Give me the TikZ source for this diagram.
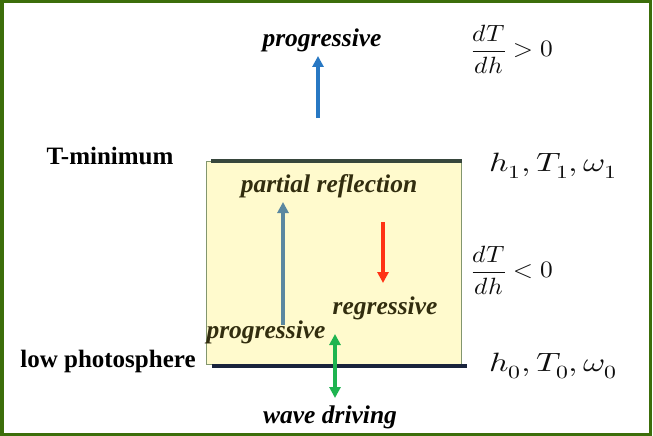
\documentclass[tikz,border=0pt]{standalone}
\usepackage{amsmath}
\usepackage{fontspec}
\usepackage{unicode-math}
\setmainfont{Liberation Serif}
\setmathfont{Latin Modern Math}
\usetikzlibrary{arrows.meta}
\definecolor{framegreen}{RGB}{60,110,10}
\definecolor{boxfill}{RGB}{255,250,205}
\definecolor{boxedge}{RGB}{130,150,110}
\definecolor{topline}{RGB}{55,70,60}
\definecolor{botline}{RGB}{25,35,60}
\definecolor{blueA}{RGB}{40,120,195}
\definecolor{steelA}{RGB}{90,135,160}
\definecolor{redA}{RGB}{255,50,20}
\definecolor{greenA}{RGB}{30,180,80}
\definecolor{olivetext}{RGB}{50,45,15}
\definecolor{mathgray}{RGB}{15,15,15}
\tikzset{
  boldlab/.style={font=\fontsize{25}{30}\selectfont\bfseries, text=black, inner sep=0pt},
  itlab/.style={font=\fontsize{25.5}{30}\selectfont\bfseries\itshape, inner sep=0pt},
  mathlab/.style={font=\fontsize{26.5}{30}\selectfont, text=mathgray, inner sep=0pt},
  fraclab/.style={font=\fontsize{23.5}{28}\selectfont, text=mathgray, inner sep=0pt},
  arr/.style={line width=3.2pt, -{Triangle[width=11pt,length=11pt]}},
  darr/.style={line width=3.2pt, {Triangle[width=11pt,length=11pt]}-{Triangle[width=11pt,length=11pt]}},
}
\begin{document}
\begin{tikzpicture}[x=1pt,y=-1pt]
\useasboundingbox (0,0) rectangle (653,436);
\fill[white] (0,0) rectangle (653,436);
% yellow box
\draw[boxedge, fill=boxfill, line width=0.8pt] (206,161) rectangle (461,364);
% boundary lines
\coordinate (tl1) at (211,161);
\coordinate (tl2) at (462,161);
\draw[topline, line width=4pt] (tl1) -- (tl2);
\coordinate (bl1) at (212,366);
\coordinate (bl2) at (467,366);
\draw[botline, line width=4pt] (bl1) -- (bl2);
% texts
\node[itlab, text=black] (progtop) at (322,40) {progressive};
\node[boldlab] (tmin) at (110,156) {T-minimum};
\node[boldlab] (lowph) at (108,361) {low photosphere};
\node[itlab, text=olivetext] (partial) at (329,186) {partial reflection};
\node[itlab, text=olivetext] (regr) at (385,308) {regressive};
\node[itlab, text=olivetext] (progbot) at (266,332) {progressive};
\node[itlab, text=black] (wave) at (330,417) {wave driving};
\node[mathlab, anchor=west] (h1) at (489,166) {\scalebox{1.28}[1]{$h_1, T_1, \omega_1$}};
\node[mathlab, anchor=west] (h0) at (489,366) {\scalebox{1.28}[1]{$h_0, T_0, \omega_0$}};
\node[fraclab, anchor=west] (dtpos) at (471,49) {\scalebox{1.08}[1]{$\dfrac{dT}{dh} > 0$}};
\node[fraclab, anchor=west] (dtneg) at (471,270) {\scalebox{1.08}[1]{$\dfrac{dT}{dh} < 0$}};
% arrows
\coordinate (a1s) at (318,118);
\coordinate (a1e) at (318,56);
\draw[arr, blueA] (a1s) -- (a1e);
\coordinate (a2s) at (283,325);
\coordinate (a2e) at (283,202);
\draw[arr, steelA] (a2s) -- (a2e);
\coordinate (a3s) at (383,222);
\coordinate (a3e) at (383,283);
\draw[arr, redA] (a3s) -- (a3e);
\coordinate (a4s) at (335,334);
\coordinate (a4e) at (335,398);
\draw[darr, greenA] (a4s) -- (a4e);
% frame
\draw[framegreen, line width=3.5pt] (1.75,1.75) rectangle (650.5,434.25);
\end{tikzpicture}
\end{document}
